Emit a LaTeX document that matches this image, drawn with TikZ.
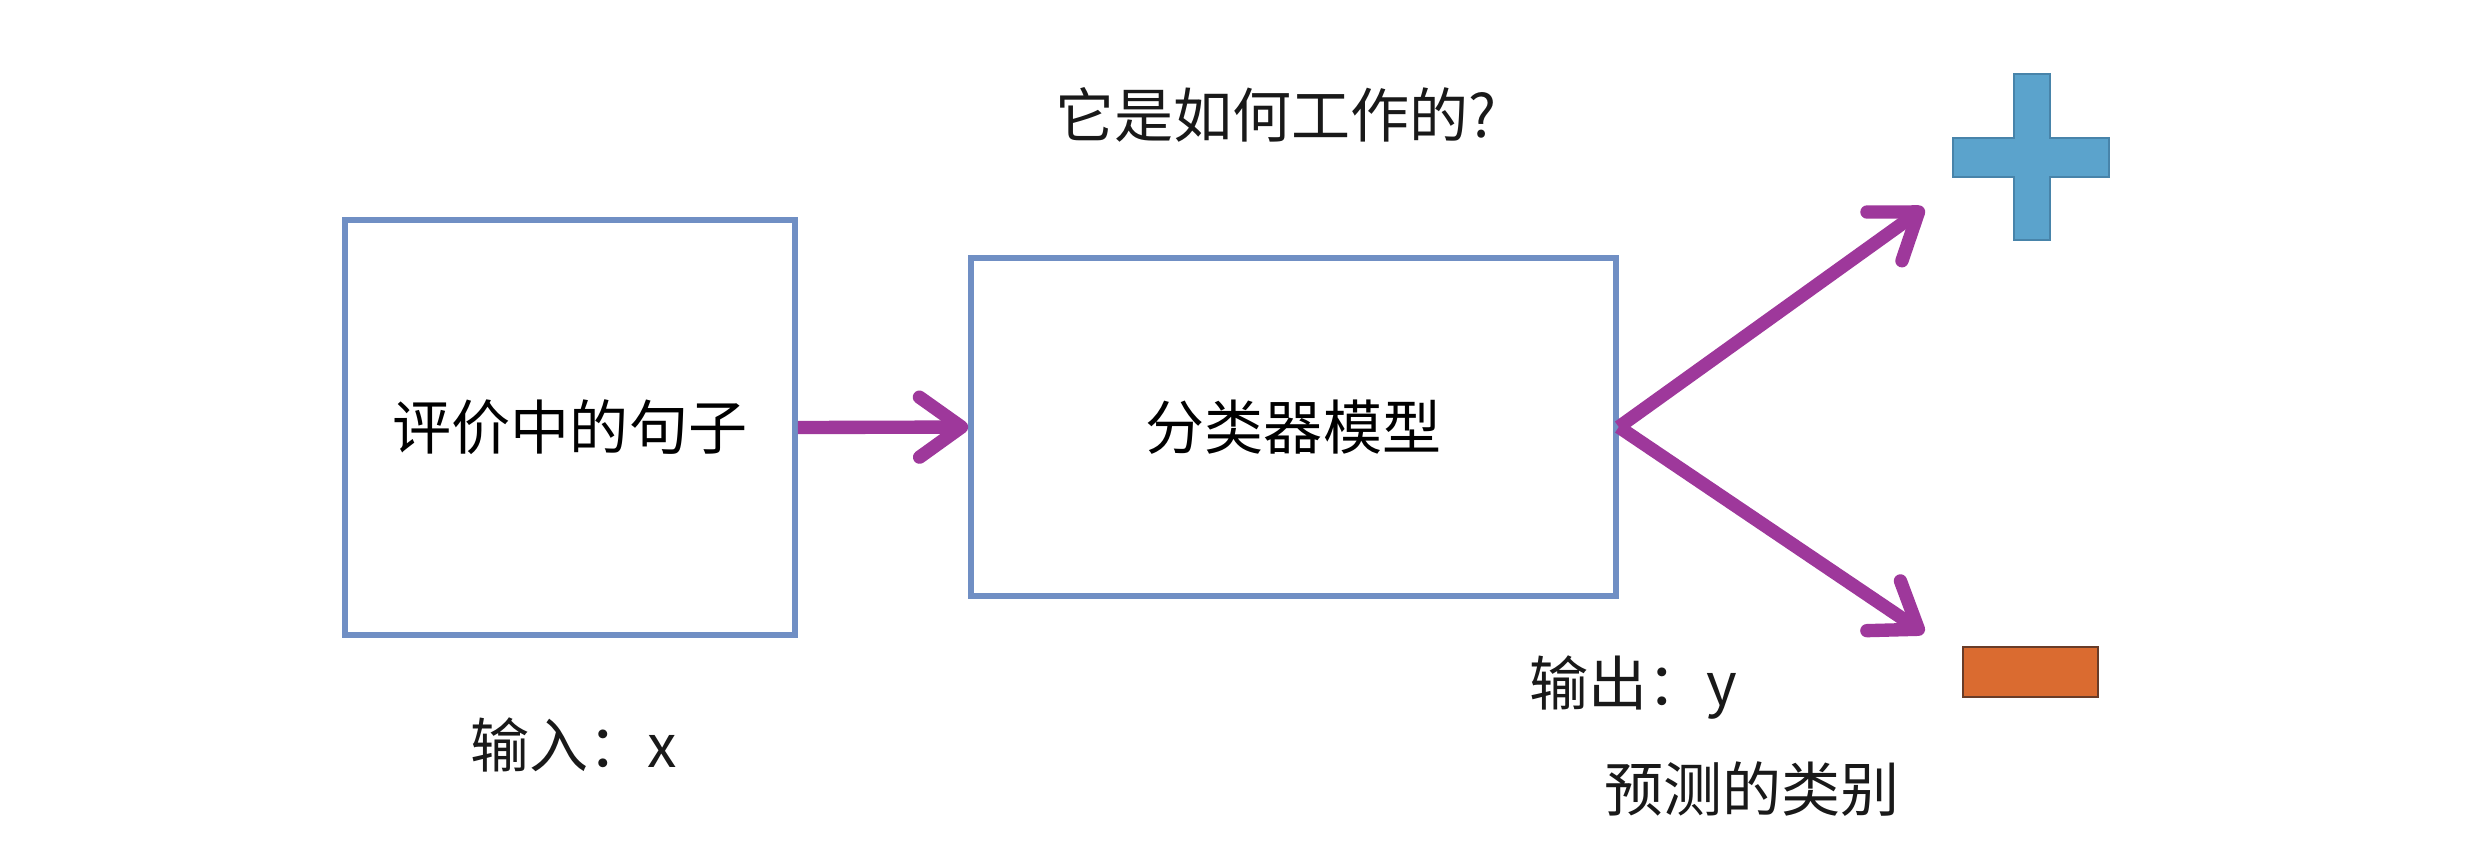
\documentclass[tikz,border=0pt]{standalone}
\usepackage{fontspec}
\setmainfont{Noto Sans CJK SC}
\usetikzlibrary{arrows.meta}
\definecolor{boxblue}{RGB}{112,143,196}
\definecolor{arrpurple}{RGB}{158,56,155}
\definecolor{plusfill}{RGB}{91,163,204}
\definecolor{plusdraw}{RGB}{72,132,170}
\definecolor{minusfill}{RGB}{218,107,48}
\definecolor{minusdraw}{RGB}{105,60,40}
\tikzset{
  stagebox/.style={draw=boxblue, line width=1.6pt, fill=white},
  conn/.style={draw=arrpurple, line width=3.8pt, -{Straight Barb[length=0.42cm, width=0.6cm, round]}},
  lbl/.style={inner sep=0pt, text=black!90},
}
\begin{document}
\begin{tikzpicture}[font=\fontsize{16.8pt}{20pt}\selectfont]
\useasboundingbox (0,0) rectangle (24.84,-8.56);
\fill[white] (0,0) rectangle (24.84,-8.56);
\node[lbl] (title) at (12.76,-1.15) {它是如何工作的?};
\node[stagebox, minimum width=4.50cm, minimum height=4.15cm] (box1) at (5.70,-4.275) {评价中的句子};
\node[stagebox, minimum width=6.45cm, minimum height=3.38cm] (box2) at (12.935,-4.27) {分类器模型};
\coordinate (ptip) at (19.24,-2.08);
\coordinate (mtip) at (19.24,-6.33);
\draw[conn] (box1.east) -- (box2.west);
\draw[conn] (box2.east) -- (ptip);
\draw[conn] (box2.east) -- (mtip);
\filldraw[fill=plusfill, draw=plusdraw, line width=0.8pt]
  (20.14,-0.74) -- (20.50,-0.74) -- (20.50,-1.38) -- (21.09,-1.38) -- (21.09,-1.77)
  -- (20.50,-1.77) -- (20.50,-2.40) -- (20.14,-2.40) -- (20.14,-1.77) -- (19.53,-1.77)
  -- (19.53,-1.38) -- (20.14,-1.38) -- cycle;
\filldraw[fill=minusfill, draw=minusdraw, line width=0.8pt] (19.63,-6.47) rectangle (20.98,-6.97);
\node[lbl] (inlbl) at (5.74,-7.45) {输入：x};
\node[lbl] (outlbl) at (16.33,-6.87) {输出：y};
\node[lbl] (predlbl) at (17.52,-7.89) {预测的类别};
\end{tikzpicture}
\end{document}
